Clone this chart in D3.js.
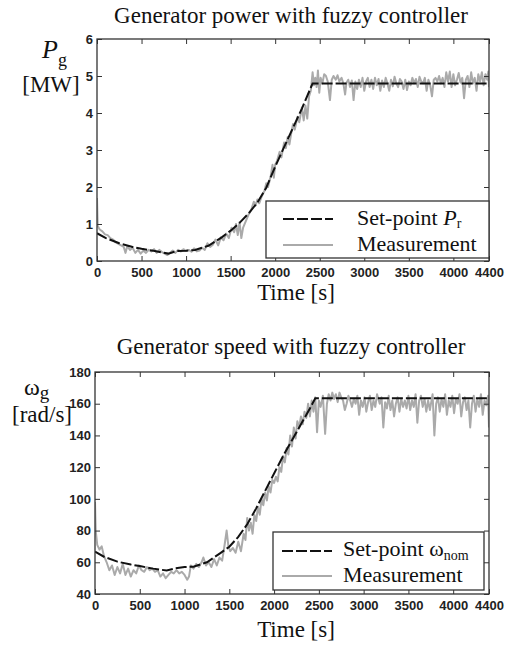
<!DOCTYPE html>
<html>
<head>
<meta charset="utf-8">
<script src="https://cdn.jsdelivr.net/npm/d3@7/dist/d3.min.js"></script>
<style>
  body { margin: 0; background: #fff; }
  svg { display: block; }
  .tick text { font-family: "Liberation Sans", Arial, sans-serif; font-size: 13px; font-weight: bold; fill: #222; }
  .serif { font-family: "Liberation Serif", "Times New Roman", serif; fill: #111; }
</style>
</head>
<body>
<div id="chart"></div>
<script>
"use strict";

// ticks
var timeTicks = [0, 500, 1000, 1500, 2000, 2500, 3000, 3500, 4000, 4400];
var powerTicks = [0, 1, 2, 3, 4, 5, 6];
var speedTicks = [40, 60, 80, 100, 120, 140, 160, 180];

// set-point power P_r [MW]
var setTimeP = [0, 100, 250, 400, 500, 650, 800, 900, 1000, 1100, 1250, 1400, 1500, 1600, 1700, 1800, 1900, 2000, 2100, 2200, 2300, 2420, 4400];
var setP     = [0.75, 0.62, 0.48, 0.38, 0.33, 0.27, 0.20, 0.27, 0.28, 0.30, 0.41, 0.64, 0.82, 1.03, 1.28, 1.58, 1.98, 2.55, 3.08, 3.60, 4.12, 4.80, 4.80];

// measured power [MW]
var measTimeP = [0, 8, 30, 60, 90, 120, 150, 180, 210, 240, 270, 300, 320, 340, 370, 400, 430, 460, 490, 520, 550, 580, 610, 640, 670, 700, 730, 760, 790, 820, 850, 880, 910, 940, 970, 1000, 1030, 1060, 1090, 1120, 1150, 1180, 1210, 1240, 1270, 1300, 1330, 1360, 1390, 1420, 1450, 1480, 1510, 1540, 1560, 1580, 1600, 1620, 1640, 1660, 1700, 1730, 1760, 1780, 1800, 1820, 1850, 1880, 1900, 1920, 1950, 1970, 1985, 2000, 2020, 2050, 2070, 2100, 2120, 2140, 2160, 2180, 2200, 2220, 2250, 2270, 2300, 2320, 2340, 2360, 2380, 2400, 2420, 2435, 2450, 2465, 2480, 2495, 2510, 2530, 2550, 2570, 2590, 2615, 2635, 2655, 2680, 2700, 2720, 2745, 2765, 2785, 2800, 2820, 2840, 2860, 2880, 2900, 2920, 2940, 2960, 2980, 3000, 3020, 3040, 3060, 3080, 3100, 3120, 3140, 3160, 3180, 3200, 3220, 3240, 3260, 3280, 3300, 3320, 3340, 3360, 3380, 3400, 3420, 3440, 3460, 3480, 3500, 3520, 3540, 3560, 3580, 3600, 3620, 3640, 3660, 3680, 3700, 3720, 3740, 3760, 3780, 3800, 3820, 3840, 3860, 3880, 3900, 3920, 3940, 3960, 3980, 4000, 4020, 4040, 4060, 4080, 4100, 4120, 4140, 4160, 4180, 4200, 4220, 4240, 4260, 4280, 4300, 4320, 4340, 4360, 4380, 4392, 4400];
var measP     = [1.70, 0.95, 0.85, 0.80, 0.72, 0.70, 0.62, 0.58, 0.50, 0.46, 0.42, 0.38, 0.22, 0.40, 0.30, 0.36, 0.22, 0.30, 0.20, 0.28, 0.22, 0.30, 0.26, 0.32, 0.22, 0.30, 0.24, 0.20, 0.16, 0.22, 0.28, 0.22, 0.30, 0.26, 0.32, 0.27, 0.30, 0.25, 0.34, 0.26, 0.28, 0.36, 0.30, 0.48, 0.38, 0.44, 0.58, 0.42, 0.64, 0.56, 0.74, 0.62, 0.90, 0.78, 1.00, 0.70, 1.05, 0.62, 0.90, 1.02, 1.25, 1.38, 1.60, 1.50, 1.66, 1.56, 1.75, 1.90, 2.10, 2.00, 2.30, 2.60, 2.25, 2.60, 2.70, 2.95, 2.80, 3.20, 3.05, 3.35, 3.15, 3.45, 3.70, 3.55, 3.90, 3.75, 4.15, 3.80, 4.20, 3.85, 4.45, 4.60, 5.10, 4.75, 4.95, 4.70, 5.15, 4.55, 4.95, 4.80, 5.05, 5.00, 4.85, 4.35, 4.90, 5.00, 4.90, 5.02, 4.85, 4.95, 4.80, 4.50, 4.82, 4.90, 4.70, 4.88, 4.35, 4.85, 4.65, 4.90, 4.70, 4.95, 4.60, 4.85, 4.95, 4.70, 4.90, 4.65, 4.95, 4.75, 4.92, 4.60, 4.88, 4.70, 4.95, 4.80, 4.60, 4.90, 4.72, 4.98, 4.80, 4.70, 4.92, 4.85, 4.65, 4.90, 4.62, 4.85, 4.75, 4.95, 4.80, 4.92, 4.70, 4.98, 4.85, 4.80, 4.95, 4.60, 4.90, 4.75, 4.45, 4.90, 4.95, 4.85, 5.00, 4.80, 4.95, 4.70, 5.10, 4.85, 5.12, 4.70, 5.05, 4.75, 4.90, 5.08, 4.82, 4.95, 4.40, 4.90, 5.00, 4.70, 5.10, 4.80, 4.95, 4.60, 5.05, 4.85, 5.10, 4.75, 5.05, 4.90, 5.12, 4.70, 4.10];

// set-point speed omega_nom [rad/s]
var setTimeW = [0, 100, 250, 400, 500, 650, 800, 900, 1000, 1100, 1250, 1400, 1500, 1600, 1700, 1800, 1900, 2000, 2100, 2200, 2300, 2400, 2460, 4400];
var setW     = [66.7, 63.5, 60.4, 58.6, 57.6, 56.0, 54.8, 56.2, 57.0, 57.2, 60.0, 65.8, 69.8, 76.0, 84.0, 94.0, 105.0, 116.0, 127.0, 137.0, 147.0, 157.0, 163.5, 163.5];

// measured speed [rad/s]
var measTimeW = [0, 8, 25, 50, 75, 100, 130, 160, 190, 220, 250, 280, 310, 340, 370, 400, 430, 460, 490, 520, 550, 580, 610, 640, 670, 700, 730, 760, 790, 820, 850, 880, 910, 940, 970, 1000, 1030, 1050, 1070, 1100, 1130, 1160, 1190, 1210, 1240, 1270, 1300, 1330, 1360, 1390, 1420, 1450, 1470, 1490, 1510, 1540, 1570, 1600, 1630, 1660, 1680, 1700, 1720, 1740, 1760, 1780, 1800, 1820, 1840, 1860, 1880, 1900, 1920, 1940, 1960, 1980, 2000, 2020, 2040, 2060, 2080, 2100, 2120, 2140, 2160, 2180, 2200, 2220, 2240, 2260, 2280, 2300, 2320, 2340, 2360, 2380, 2400, 2420, 2440, 2460, 2480, 2500, 2520, 2545, 2570, 2590, 2610, 2630, 2650, 2670, 2690, 2710, 2730, 2750, 2770, 2790, 2810, 2830, 2850, 2870, 2890, 2910, 2930, 2950, 2970, 2990, 3010, 3030, 3050, 3070, 3090, 3110, 3130, 3150, 3180, 3200, 3220, 3240, 3260, 3280, 3300, 3320, 3340, 3360, 3380, 3400, 3420, 3440, 3460, 3480, 3500, 3520, 3540, 3560, 3580, 3600, 3620, 3640, 3660, 3680, 3700, 3720, 3740, 3770, 3790, 3810, 3830, 3850, 3870, 3890, 3910, 3930, 3950, 3970, 3990, 4010, 4030, 4050, 4070, 4090, 4110, 4130, 4150, 4170, 4190, 4210, 4230, 4250, 4270, 4290, 4310, 4330, 4350, 4370, 4390, 4400];
var measW     = [98, 80, 71, 68, 70, 64, 60, 55, 58, 52, 57, 53, 59, 52, 56, 51, 55, 53, 58, 55, 54, 57, 55, 56, 54, 55, 51, 53, 50, 52, 54, 53, 55, 53, 54, 52, 49, 51, 58, 56, 59, 57, 60, 63, 58, 60, 57, 62, 58, 63, 61, 72, 80, 70, 67, 69, 66, 73, 67, 78, 74, 88, 80, 85, 78, 90, 86, 95, 90, 100, 96, 104, 99, 108, 104, 112, 110, 114, 111, 120, 117, 127, 123, 132, 128, 140, 133, 145, 138, 149, 145, 152, 147, 155, 151, 160, 152, 162, 155, 164, 142, 162, 158, 165, 141, 160, 166, 162, 167, 163, 166, 161, 167, 164, 162, 156, 160, 165, 162, 158, 163, 160, 165, 153, 162, 158, 164, 155, 161, 165, 156, 162, 158, 166, 160, 164, 145, 161, 157, 165, 156, 162, 152, 160, 164, 155, 163, 158, 162, 157, 165, 156, 162, 158, 166, 148, 162, 165, 158, 163, 155, 162, 156, 166, 140, 160, 164, 155, 163, 158, 166, 153, 162, 158, 165, 154, 163, 160, 166, 152, 161, 164, 156, 162, 145, 160, 165, 155, 163, 158, 166, 153, 162, 159, 165, 145, 150];

var width = 512, height = 650;
var svg = d3.select("#chart").append("svg")
    .attr("width", width)
    .attr("height", height);

function serifText(g, x, y, size, str, anchor)
{
    return g.append("text")
        .attr("class", "serif")
        .attr("x", x)
        .attr("y", y)
        .attr("text-anchor", anchor || "start")
        .style("font-size", size + "px")
        .text(str);
}

function drawPanel(cfg)
{
    var g = svg.append("g");
    var x = d3.scaleLinear().domain([0, 4400]).range([cfg.left, cfg.right]);
    var y = d3.scaleLinear().domain(cfg.yDomain).range([cfg.bottom, cfg.top]);

    var clipId = "clip" + cfg.id;
    g.append("clipPath").attr("id", clipId)
        .append("rect")
        .attr("x", cfg.left).attr("y", cfg.top)
        .attr("width", cfg.right - cfg.left)
        .attr("height", cfg.bottom - cfg.top);

    var line = d3.line()
        .x(function(d){ return x(d[0]); })
        .y(function(d){ return y(d[1]); });

    // measurement
    g.append("path")
        .datum(d3.zip(cfg.measT, cfg.measV))
        .attr("clip-path", "url(#" + clipId + ")")
        .attr("d", line)
        .style("fill", "none")
        .style("stroke", "#aaaaaa")
        .style("stroke-width", 2)
        .style("stroke-linejoin", "round");

    // set-point
    g.append("path")
        .datum(d3.zip(cfg.setT, cfg.setV))
        .attr("clip-path", "url(#" + clipId + ")")
        .attr("d", line)
        .style("fill", "none")
        .style("stroke", "#111")
        .style("stroke-width", 2)
        .style("stroke-dasharray", "11,3");

    // axes, ticks pointing inward
    g.append("g")
        .attr("transform", "translate(0," + cfg.bottom + ")")
        .call(d3.axisBottom(x).tickValues(timeTicks).tickFormat(d3.format("d"))
            .tickSizeInner(-5).tickSizeOuter(0).tickPadding(7));
    g.append("g")
        .attr("transform", "translate(0," + cfg.top + ")")
        .call(d3.axisTop(x).tickValues(timeTicks).tickFormat("")
            .tickSizeInner(-5).tickSizeOuter(0));
    g.append("g")
        .attr("transform", "translate(" + cfg.left + ",0)")
        .call(d3.axisLeft(y).tickValues(cfg.yTicks).tickFormat(d3.format("d"))
            .tickSizeInner(-5).tickSizeOuter(0).tickPadding(4));
    g.append("g")
        .attr("transform", "translate(" + cfg.right + ",0)")
        .call(d3.axisRight(y).tickValues(cfg.yTicks).tickFormat("")
            .tickSizeInner(-5).tickSizeOuter(0));
    g.selectAll(".domain").remove();
    g.selectAll(".tick line").style("stroke", "#333");

    g.append("rect")
        .attr("x", cfg.left).attr("y", cfg.top)
        .attr("width", cfg.right - cfg.left)
        .attr("height", cfg.bottom - cfg.top)
        .style("fill", "none")
        .style("stroke", "#333")
        .style("stroke-width", 1.3);

    // title and axis label
    serifText(g, 291, cfg.titleY, 23, cfg.title, "middle");
    serifText(g, 296, cfg.xLabelY, 23, "Time [s]", "middle");

    // legend
    var lg = cfg.legend;
    g.append("rect")
        .attr("x", lg.x).attr("y", lg.y)
        .attr("width", lg.w).attr("height", lg.h)
        .style("fill", "#fff")
        .style("stroke", "#333")
        .style("stroke-width", 1.3);
    g.append("line")
        .attr("x1", lg.lx).attr("x2", lg.lx + 50)
        .attr("y1", lg.y1).attr("y2", lg.y1)
        .style("stroke", "#111").style("stroke-width", 2)
        .style("stroke-dasharray", "11,3");
    g.append("line")
        .attr("x1", lg.lx).attr("x2", lg.lx + 50)
        .attr("y1", lg.y2).attr("y2", lg.y2)
        .style("stroke", "#aaaaaa").style("stroke-width", 2);
    lg.label(g);
    serifText(g, lg.tx, lg.y2 + 6, 22, "Measurement");

    cfg.yLabel(g);
}

drawPanel({
    id: 1,
    left: 97, right: 489, top: 39, bottom: 261,
    yDomain: [0, 6], yTicks: powerTicks,
    setT: setTimeP, setV: setP, measT: measTimeP, measV: measP,
    title: "Generator power with fuzzy controller",
    titleY: 23, xLabelY: 300,
    legend: {
        x: 266, y: 201, w: 223, h: 57, lx: 283, y1: 219, y2: 245, tx: 357,
        label: function(g){
            var t = serifText(g, 357, 225, 22, "Set-point ");
            t.append("tspan").style("font-style", "italic").text("P");
            t.append("tspan").attr("dy", 3).style("font-size", "14px").text("r");
        }
    },
    yLabel: function(g){
        var t = serifText(g, 42, 58, 26, "");
        t.append("tspan").style("font-style", "italic").text("P");
        t.append("tspan").attr("dy", 8).style("font-size", "18px").text("g");
        serifText(g, 51, 92, 23, "[MW]", "middle");
    }
});

drawPanel({
    id: 2,
    left: 95, right: 489, top: 372, bottom: 594,
    yDomain: [40, 180], yTicks: speedTicks,
    setT: setTimeW, setV: setW, measT: measTimeW, measV: measW,
    title: "Generator speed with fuzzy controller",
    titleY: 354, xLabelY: 637,
    legend: {
        x: 273, y: 532, w: 211, h: 58, lx: 282, y1: 551, y2: 576, tx: 343,
        label: function(g){
            var t = serifText(g, 343, 556, 22, "Set-point \u03c9");
            t.append("tspan").attr("dy", 4).style("font-size", "14px").text("nom");
        }
    },
    yLabel: function(g){
        var t = serifText(g, 24, 395, 24, "\u03c9");
        t.append("tspan").attr("dy", 4).style("font-size", "19px").text("g");
        serifText(g, 42, 422, 23, "[rad/s]", "middle");
    }
});
</script>
</body>
</html>
